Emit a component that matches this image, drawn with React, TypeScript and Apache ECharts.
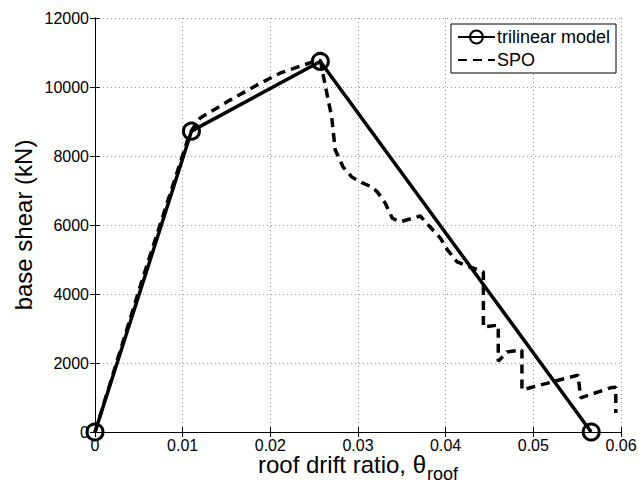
import React, { useEffect, useRef } from "react";
import * as echarts from "echarts";

const xTicksMax = 0.06;
const yTicksMax = 12000;

// trilinear model points [drift ratio, base shear kN]
const trilinearX = [0, 0.011, 0.0257, 0.0566];
const trilinearY = [0, 8720, 10740, 0];

// static pushover (SPO) curve
const spoX = [
  0, 0.0055, 0.0108, 0.0113, 0.012, 0.0154, 0.0185, 0.0211, 0.0245, 0.0257,
  0.0263, 0.027, 0.0274, 0.0283, 0.0293, 0.0305, 0.0316, 0.0322, 0.0331, 0.0339,
  0.0348, 0.0371, 0.0382, 0.0394, 0.0402, 0.0413, 0.0428, 0.0443, 0.0443, 0.046,
  0.046, 0.047, 0.0487, 0.0487, 0.0551, 0.0554, 0.0588, 0.0594, 0.0594,
];
const spoY = [
  0, 4500, 8650, 8850, 9100, 9620, 10060, 10400, 10700, 10780,
  10000, 9130, 8180, 7680, 7390, 7220, 7100, 6960, 6640, 6200,
  6090, 6260, 5950, 5620, 5280, 4930, 4780, 4640, 3040, 3100,
  2050, 2320, 2380, 1220, 1650, 990, 1280, 1300, 550,
];

const FONT = "Liberation Sans, Arial, Helvetica, sans-serif";

export default function App() {
  const ref = useRef<HTMLDivElement>(null);
  useEffect(() => {
    document.body.style.margin = "0";
    document.body.style.overflow = "hidden";
    if (!ref.current) return;
    const chart = echarts.init(ref.current, undefined, { renderer: "svg" });
    const fmt = (v: number) => String(parseFloat(v.toFixed(3)));
    const tri = trilinearX.map((x, i) => [x, trilinearY[i]]);
    const spo = spoX.map((x, i) => [x, spoY[i]]);
    const axisLine = { show: true, lineStyle: { color: "#000", width: 1 } };
    const tick = { show: true, inside: true, length: 5, lineStyle: { color: "#000" } };
    chart.setOption({
      animation: false,
      backgroundColor: "#fff",
      textStyle: { fontFamily: FONT },
      grid: { left: 95, right: 18, top: 18, bottom: 52, containLabel: false, outerBoundsMode: "none" },
      legend: {
        orient: "vertical",
        right: 23,
        top: 24,
        backgroundColor: "#fff",
        borderColor: "#000",
        borderWidth: 1,
        borderRadius: 0,
        padding: [4, 6, 4, 6],
        itemWidth: 37,
        itemHeight: 16,
        itemGap: 5,
        textStyle: { fontFamily: FONT, fontSize: 18, color: "#000", padding: [0, 0, 0, -3] },
        data: [
          { name: "trilinear model" },
          { name: "SPO", itemStyle: { opacity: 0 } },
        ],
      },
      xAxis: [
        {
          type: "value",
          min: 0,
          max: xTicksMax,
          interval: 0.01,
          name: "{a|roof drift ratio, θ}{b|roof}",
          nameLocation: "middle",
          nameGap: 20,
          nameMoveOverlap: false,
          nameTextStyle: {
            rich: {
              a: { fontFamily: FONT, fontSize: 24, color: "#000", verticalAlign: "top" },
              b: { fontFamily: FONT, fontSize: 18, color: "#000", verticalAlign: "bottom", lineHeight: 31, padding: [0, 0, 0, 1] },
            },
          },
          axisLine,
          axisTick: tick,
          axisLabel: { formatter: fmt, fontFamily: FONT, fontSize: 16, lineHeight: 14, color: "#000", margin: 6 },
          splitLine: { show: true, lineStyle: { color: "#999", type: [1, 3], width: 1 } },
        },
        {
          type: "value",
          position: "top",
          min: 0,
          max: xTicksMax,
          interval: 0.01,
          axisLine,
          axisTick: tick,
          axisLabel: { show: false },
          splitLine: { show: false },
        },
      ],
      yAxis: [
        {
          type: "value",
          min: 0,
          max: yTicksMax,
          interval: 2000,
          name: "base shear (kN)",
          nameLocation: "middle",
          nameGap: 60,
          nameMoveOverlap: false,
          nameTextStyle: { fontFamily: FONT, fontSize: 24, color: "#000" },
          axisLine,
          axisTick: tick,
          axisLabel: { formatter: (v: number) => String(v), fontFamily: FONT, fontSize: 16, color: "#000", margin: 6 },
          splitLine: { show: true, lineStyle: { color: "#999", type: [1, 3], width: 1 } },
        },
        {
          type: "value",
          position: "right",
          min: 0,
          max: yTicksMax,
          interval: 2000,
          axisLine,
          axisTick: tick,
          axisLabel: { show: false },
          splitLine: { show: false },
        },
      ],
      series: [
        {
          name: "trilinear model",
          type: "line",
          data: tri,
          symbol: "circle",
          symbolSize: 16,
          showAllSymbol: true,
          lineStyle: { color: "#000", width: 3.5 },
          itemStyle: { color: "rgba(255,255,255,0)", borderColor: "#000", borderWidth: 3 },
          z: 3,
        },
        {
          name: "SPO",
          type: "line",
          data: spo,
          symbol: "none",
          lineStyle: { color: "#000", width: 3.5, type: [9, 6] },
          itemStyle: { color: "#000" },
          z: 2,
        },
      ],
    });
    return () => chart.dispose();
  }, []);
  return <div ref={ref} style={{ width: 639, height: 484, background: "#fff" }} />;
}
